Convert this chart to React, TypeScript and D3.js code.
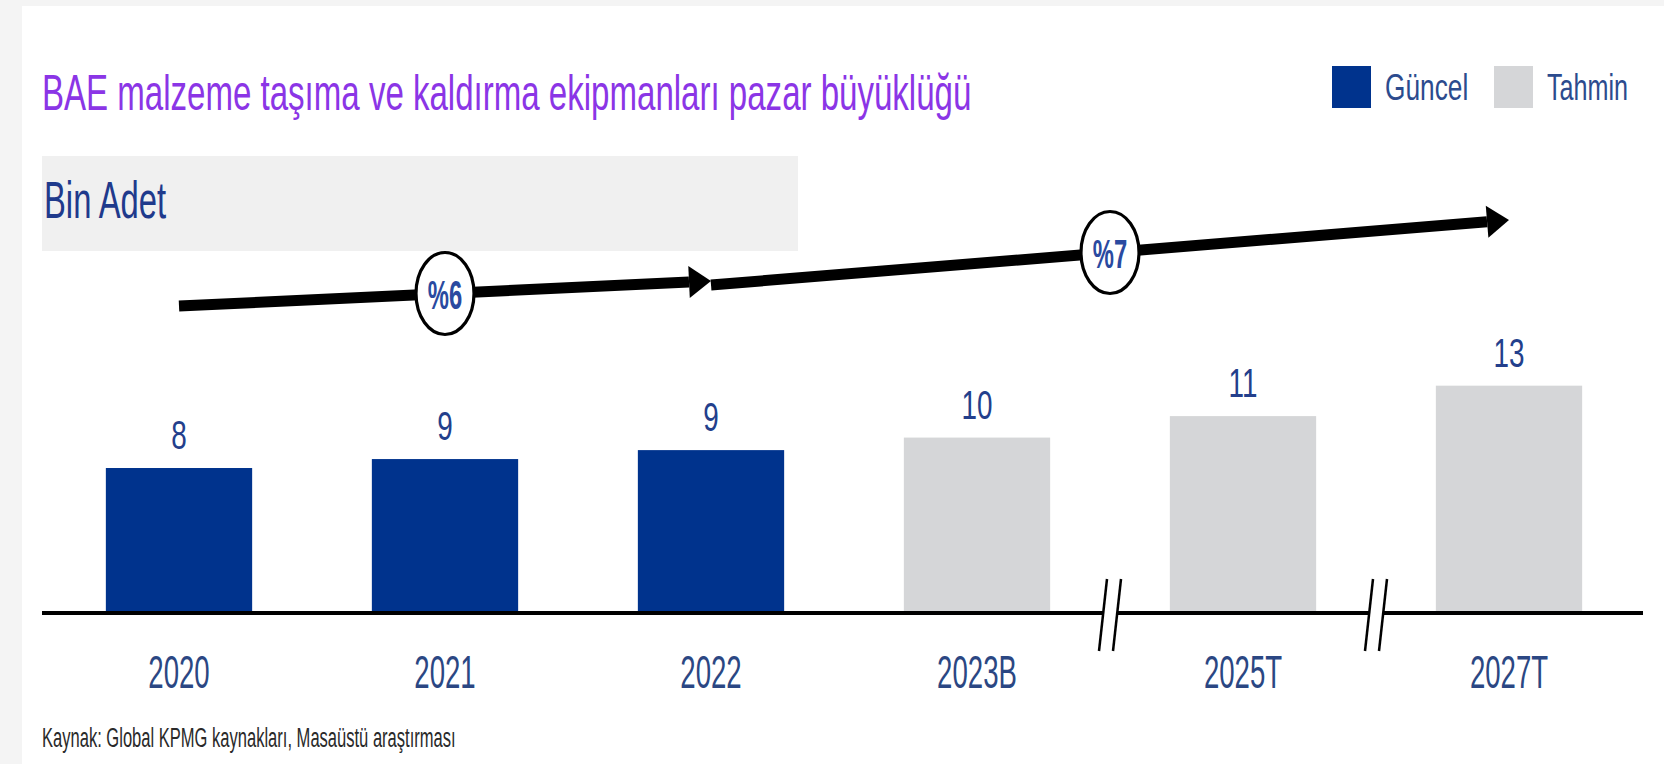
import React from "react";
import * as d3 from "d3";

const categories = ["2020", "2021", "2022", "2023B", "2025T", "2027T"];
const values = [8.1, 8.6, 9.1, 9.8, 11.0, 12.7];
const seriesOf = ["Güncel", "Güncel", "Güncel", "Tahmin", "Tahmin", "Tahmin"];
const legendLabels = ["Güncel", "Tahmin"];
const growthLabels = ["%6", "%7"];
const growthFrom = ["2020", "2022"];
const growthTo = ["2022", "2027T"];
const breakAfter = ["2023B", "2025T"];
const titleText = "BAE malzeme taşıma ve kaldırma ekipmanları pazar büyüklüğü";
const unitText = "Bin Adet";
const sourceText = "Kaynak: Global KPMG kaynakları, Masaüstü araştırması";

const W = 1664;
const H = 764;
const FONT = "'Liberation Sans', Arial, sans-serif";
const NAVY_BAR = "#00338d";
const GRAY_BAR = "#d5d6d8";
const TEXT_NAVY = "#2c4b8e";
const colorOf: Record<string, string> = { "Güncel": NAVY_BAR, "Tahmin": GRAY_BAR };

function SText({ x, y, size, sx = 0.7, fill = TEXT_NAVY, anchor = "start", weight = "normal", children }: any) {
  return (
    <text
      transform={`translate(${x},${y}) scale(${sx},1)`}
      fontFamily={FONT}
      fontSize={size}
      fill={fill}
      textAnchor={anchor}
      fontWeight={weight}
    >
      {children}
    </text>
  );
}

export default function App() {
  const axisY = 613;
  const x = d3
    .scaleBand<string>()
    .domain(categories)
    .range([46, 1642])
    .paddingInner(0.45)
    .paddingOuter(0.225);
  const y = d3.scaleLinear().domain([0, 10]).range([axisY, 434]);
  const cx = (c: string) => (x(c) as number) + x.bandwidth() / 2;

  const arrowYs = [
    [306, 281],
    [285, 220],
  ];

  const arrows = growthLabels.map((lab, i) => {
    const x0 = cx(growthFrom[i]);
    const x1 = cx(growthTo[i]);
    const [y0, y1] = arrowYs[i];
    const ang = Math.atan2(y1 - y0, x1 - x0);
    const headLen = 22;
    const headW = 16;
    const bx = x1 - headLen * Math.cos(ang);
    const by = y1 - headLen * Math.sin(ang);
    const px = -Math.sin(ang);
    const py = Math.cos(ang);
    const head = `M${x1},${y1} L${bx + px * headW},${by + py * headW} L${bx - px * headW},${by - py * headW} Z`;
    return { lab, x0, y0, x1, y1, bx, by, head, mx: (x0 + x1) / 2, my: (y0 + y1) / 2 };
  });

  const breaks = breakAfter.map((c) => {
    const i = categories.indexOf(c);
    return (cx(categories[i]) + cx(categories[i + 1])) / 2;
  });

  const legendX = [1332, 1494];
  const legendSx = [0.71, 0.68];

  return (
    <svg width={W} height={H} style={{ position: "absolute", left: 0, top: 0 }}>
      <rect x={0} y={0} width={W} height={H} fill="#f4f4f4" />
      <rect x={22} y={6} width={W - 22} height={H - 6} fill="#ffffff" />

      {/* Title */}
      <SText x={42} y={110} size={50} sx={0.661} fill="#8b35e6">
        {titleText}
      </SText>

      {/* Unit box */}
      <rect x={42} y={156} width={756} height={95} fill="#f0f0f0" />
      <SText x={44} y={218} size={51} sx={0.643} fill="#1f3a8c">
        {unitText}
      </SText>

      {/* Legend */}
      {legendLabels.map((l, i) => (
        <g key={l}>
          <rect x={legendX[i]} y={66} width={39} height={42} fill={colorOf[l]} />
          <SText x={legendX[i] + 53} y={100} size={37} sx={legendSx[i]}>
            {l}
          </SText>
        </g>
      ))}

      {/* Bars */}
      {categories.map((c, i) => (
        <rect
          key={c}
          x={x(c)}
          y={y(values[i])}
          width={x.bandwidth()}
          height={axisY - y(values[i])}
          fill={colorOf[seriesOf[i]]}
        />
      ))}

      {/* Value labels */}
      {categories.map((c, i) => (
        <SText key={c} x={cx(c)} y={y(values[i]) - 19} size={41} sx={0.68} anchor="middle" fill="#233f8c">
          {d3.format(".0f")(values[i])}
        </SText>
      ))}

      {/* Axis */}
      <line x1={42} x2={1643} y1={axisY} y2={axisY} stroke="#000" strokeWidth={4} />

      {/* Axis breaks */}
      {breaks.map((bx, i) => (
        <g key={i}>
          <polygon
            points={`${bx - 7 + 4},${axisY - 34} ${bx + 7 + 4},${axisY - 34} ${bx + 7 - 4},${axisY + 38} ${bx - 7 - 4},${axisY + 38}`}
            fill="#fff"
          />
          <line x1={bx - 7 + 4} y1={axisY - 34} x2={bx - 7 - 4} y2={axisY + 38} stroke="#000" strokeWidth={2.5} />
          <line x1={bx + 7 + 4} y1={axisY - 34} x2={bx + 7 - 4} y2={axisY + 38} stroke="#000" strokeWidth={2.5} />
        </g>
      ))}

      {/* Category labels */}
      {categories.map((c) => (
        <SText key={c} x={cx(c)} y={688} size={46} sx={0.6} anchor="middle" fill="#2b4783">
          {c}
        </SText>
      ))}

      {/* Growth arrows */}
      {arrows.map((a) => (
        <g key={a.lab}>
          <line x1={a.x0} y1={a.y0} x2={a.bx} y2={a.by} stroke="#000" strokeWidth={11} />
          <path d={a.head} fill="#000" />
        </g>
      ))}
      {arrows.map((a) => (
        <g key={a.lab + "c"}>
          <ellipse cx={a.mx} cy={a.my} rx={29} ry={41} fill="#fff" stroke="#000" strokeWidth={3.2} />
          <SText x={a.mx} y={a.my + 15} size={41} sx={0.58} anchor="middle" weight="bold" fill="#2a4aa0">
            {a.lab}
          </SText>
        </g>
      ))}

      {/* Source */}
      <SText x={42} y={747} size={28} sx={0.591} fill="#2a2a2a">
        {sourceText}
      </SText>
    </svg>
  );
}
